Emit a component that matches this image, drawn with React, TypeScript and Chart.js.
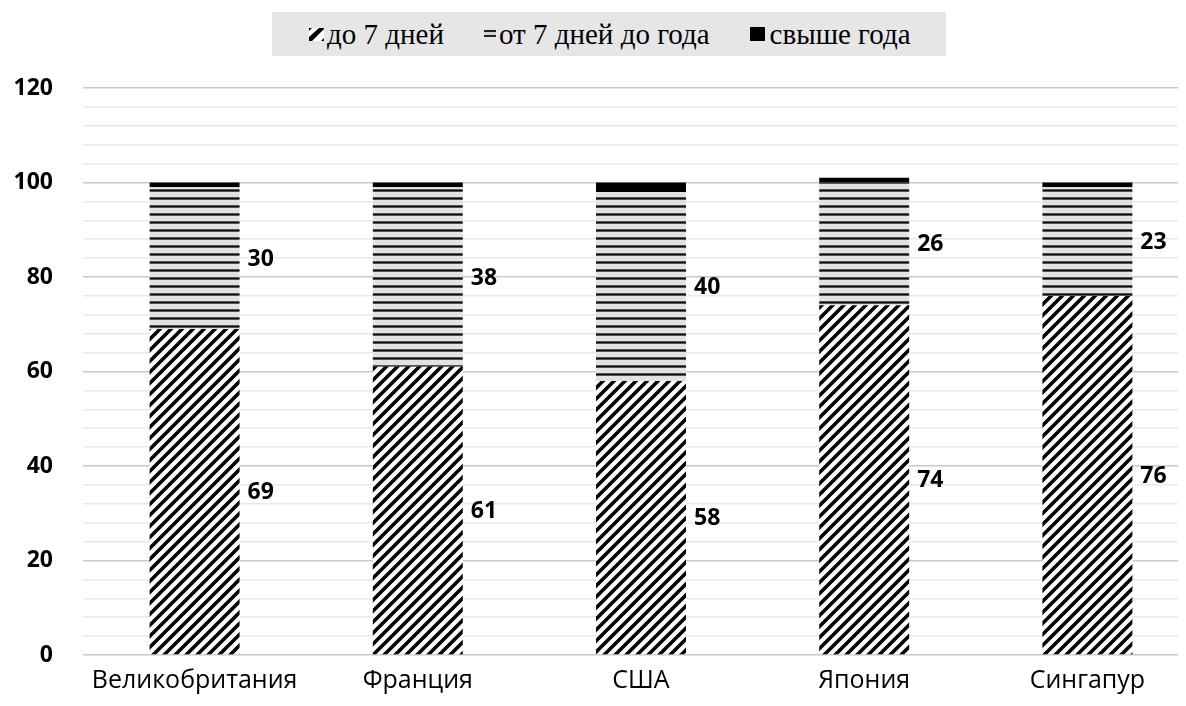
import React, { useEffect, useRef } from 'react';
import { Chart, registerables } from 'chart.js';

Chart.register(...registerables);

// Categories and series (percent of cases by duration)
const countries = ['Великобритания', 'Франция', 'США', 'Япония', 'Сингапур'];
const upTo7Days = [69, 61, 58, 74, 76];
const from7DaysToYear = [30, 38, 40, 26, 23];
const overYear = [1, 1, 2, 1, 1];
const seriesNames = ['до 7 дней', 'от 7 дней до года', 'свыше года'];

const Y_MIN = 0;
const Y_MAX = 120;
const Y_MINOR_STEP = 4;
const Y_LABEL_STEP = 20;

function makeHatch(): CanvasPattern | string {
  const s = 11;
  const c = document.createElement('canvas');
  c.width = s;
  c.height = s;
  const g = c.getContext('2d');
  if (!g) return '#000';
  g.fillStyle = '#ffffff';
  g.fillRect(0, 0, s, s);
  g.strokeStyle = '#000000';
  g.lineWidth = 3.6;
  g.beginPath();
  for (const o of [-s, 0, s]) {
    g.moveTo(o - 2, s + 2);
    g.lineTo(o + s + 2, -2);
  }
  g.stroke();
  return g.createPattern(c, 'repeat') || '#000';
}

function makeStripes(): CanvasPattern | string {
  const w = 4;
  const h = 8;
  const c = document.createElement('canvas');
  c.width = w;
  c.height = h;
  const g = c.getContext('2d');
  if (!g) return '#888';
  g.fillStyle = '#e2e2e2';
  g.fillRect(0, 0, w, h);
  g.fillStyle = '#555555';
  g.fillRect(0, 5, w, 1);
  g.fillRect(0, 7, w, 1);
  g.fillStyle = '#0d0d0d';
  g.fillRect(0, 6, w, 1);
  return g.createPattern(c, 'repeat') || '#888';
}

// Values written to the right of the two lower segments of each bar
const valueLabels = {
  id: 'valueLabels',
  afterDatasetsDraw(chart: any) {
    const ctx = chart.ctx;
    ctx.save();
    ctx.font = 'bold 23px "Open Sans"';
    ctx.fillStyle = '#000';
    ctx.textAlign = 'left';
    ctx.textBaseline = 'middle';
    [0, 1].forEach((di) => {
      const meta = chart.getDatasetMeta(di);
      meta.data.forEach((el: any, i: number) => {
        const p = el.getProps(['x', 'y', 'base', 'width'], true);
        const v = chart.data.datasets[di].data[i];
        ctx.fillText(String(v), p.x + p.width / 2 + 8, (p.y + p.base) / 2 + 1);
      });
    });
    ctx.restore();
  },
};

function HatchIcon() {
  return (
    <svg width="15" height="13" viewBox="0 0 15 13" style={{ display: 'block' }}>
      <rect x="0" y="0" width="15" height="13" fill="#fff" />
      <polygon points="0,13 0,9 10,0 15,0 15,1 3,13" fill="#000" />
      <polygon points="0,0 3,0 0,3" fill="#000" />
      <polygon points="12,13 15,10 15,13" fill="#000" />
    </svg>
  );
}

function StripeIcon() {
  return (
    <svg width="12" height="12" viewBox="0 0 12 12" style={{ display: 'block' }}>
      <rect x="0" y="2" width="12" height="2" fill="#222" />
      <rect x="0" y="4" width="12" height="3" fill="#d0d0d0" />
      <rect x="0" y="7" width="12" height="2" fill="#222" />
    </svg>
  );
}

function SolidIcon() {
  return <div style={{ width: 15, height: 14, background: '#000' }} />;
}

export default function App() {
  const ref = useRef<HTMLCanvasElement | null>(null);

  useEffect(() => {
    if (!ref.current) return;
    const hatch = makeHatch();
    const stripes = makeStripes();
    const chart = new Chart(ref.current, {
      type: 'bar',
      data: {
        labels: countries,
        datasets: [
          { label: seriesNames[0], data: upTo7Days, backgroundColor: hatch as any, borderWidth: 0 },
          { label: seriesNames[1], data: from7DaysToYear, backgroundColor: stripes as any, borderWidth: 0 },
          { label: seriesNames[2], data: overYear, backgroundColor: '#000000', borderWidth: 0 },
        ],
      },
      options: {
        responsive: false,
        animation: false,
        layout: { padding: { top: 80, left: 5, right: 9, bottom: 8 } },
        datasets: { bar: { barPercentage: 0.403, categoryPercentage: 1 } },
        plugins: {
          legend: { display: false },
          tooltip: { enabled: false },
        },
        scales: {
          x: {
            stacked: true,
            grid: { display: false },
            border: { display: false },
            ticks: {
              color: '#000',
              padding: 3,
              font: { family: '"Open Sans"', size: 25 },
              maxRotation: 0,
              autoSkip: false,
            },
          },
          y: {
            stacked: true,
            min: Y_MIN,
            max: Y_MAX,
            afterFit: (scale: any) => {
              scale.width = 70;
            },
            border: { display: false },
            grid: {
              drawTicks: false,
              lineWidth: 1.5,
              color: (ctx: any) =>
                ctx.tick && ctx.tick.value % Y_LABEL_STEP === 0 ? '#c9c9c9' : '#e9e9e9',
            },
            ticks: {
              stepSize: Y_MINOR_STEP,
              autoSkip: false,
              padding: 30,
              color: '#000',
              font: { family: '"Open Sans"', size: 23, weight: 'bold' },
              callback: (v: any) => (Number(v) % Y_LABEL_STEP === 0 ? String(v) : ''),
            },
          },
        },
      },
      plugins: [valueLabels],
    });
    return () => chart.destroy();
  }, []);

  const item = (icon: React.ReactNode, text: string, gap: number) => (
    <div style={{ display: 'flex', alignItems: 'center', gap }}>
      {icon}
      <span>{text}</span>
    </div>
  );

  return (
    <div style={{ position: 'relative', width: 1178, height: 698, overflow: 'hidden' }}>
      <canvas ref={ref} width={1200} height={699} style={{ display: 'block' }} />
      <div
        style={{
          position: 'absolute',
          left: 264,
          top: 4,
          width: 674,
          height: 44,
          boxSizing: 'border-box',
          paddingLeft: 37,
          background: '#e6e6e6',
          display: 'flex',
          alignItems: 'center',
          justifyContent: 'flex-start',
          gap: 40,
          fontFamily: '"Liberation Serif", "Times New Roman", serif',
          fontSize: 29,
          color: '#000',
          lineHeight: 1,
        }}
      >
        {item(<HatchIcon />, seriesNames[0], 3)}
        {item(<StripeIcon />, seriesNames[1], 3)}
        {item(<SolidIcon />, seriesNames[2], 5)}
      </div>
    </div>
  );
}
